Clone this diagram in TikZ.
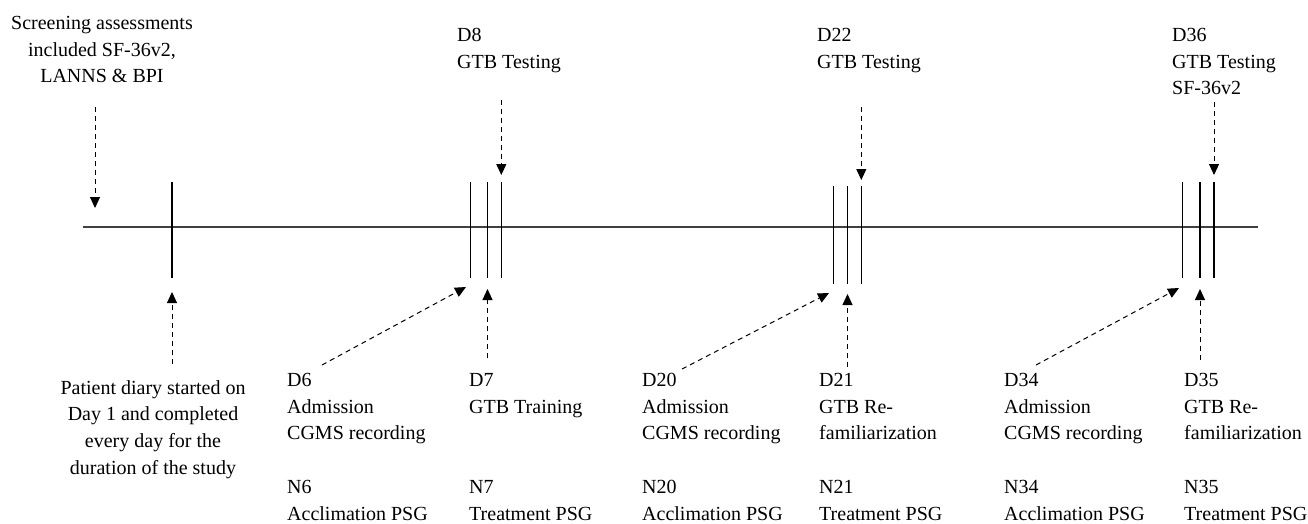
\documentclass[tikz,border=0pt]{standalone}
\usepackage{fontspec}
\setmainfont{Liberation Serif}
\usetikzlibrary{arrows.meta}

\tikzset{
    txt/.style={inner sep=0pt, font=\fontsize{20pt}{26.7pt}\selectfont, align=left, anchor=north west},
    note/.style={txt, align=center, anchor=north},
    axis/.style={line width=1.5pt, black!75},
    daytick/.style={line width=1.3pt},
    dasharrow/.style={-{Triangle[length=11pt,width=10pt]}, line width=1pt, dash pattern=on 5pt off 4pt}
}

\begin{document}
\begin{tikzpicture}[x=1pt, y=-1pt]
    \useasboundingbox (0,0) rectangle (1308,523);

    % Draw time line
    \draw[axis] (83,227) -- (1258,227);

    % Draw day ticks
    \draw[daytick] (172,182) -- (172,278); % Day 1
    \draw[daytick] (470.7,182) -- (470.7,278);
    \draw[daytick] (487.3,182) -- (487.3,278);
    \draw[daytick] (501.3,182) -- (501.3,278);
    \draw[daytick] (833.3,186) -- (833.3,284);
    \draw[daytick] (847.5,186) -- (847.5,284);
    \draw[daytick] (861.3,186) -- (861.3,284);
    \draw[daytick] (1182.7,182) -- (1182.7,278);
    \draw[daytick] (1200,182) -- (1200,278);
    \draw[daytick] (1214,182) -- (1214,278);

    % Draw labels above the line
    \node[note] (screen) at (102,16) {Screening assessments\\included SF-36v2,\\LANNS \& BPI};
    \node[txt] (d8) at (457,28) {D8\\GTB Testing};
    \node[txt] (d22) at (817,28) {D22\\GTB Testing};
    \node[txt] (d36) at (1172,28) {D36\\GTB Testing\\SF-36v2};

    % Draw labels below the line
    \node[note] (diary) at (153,380) {Patient diary started on\\Day 1 and completed\\every day for the\\duration of the study};
    \node[txt] (d6) at (287,373) {D6\\Admission\\CGMS recording};
    \node[txt] (d7) at (469,373) {D7\\GTB Training};
    \node[txt] (d20) at (642,373) {D20\\Admission\\CGMS recording};
    \node[txt] (d21) at (819,373) {D21\\GTB Re-\\familiarization};
    \node[txt] (d34) at (1004,373) {D34\\Admission\\CGMS recording};
    \node[txt] (d35) at (1184,373) {D35\\GTB Re-\\familiarization};
    \node[txt] (n6) at (287,480) {N6\\Acclimation PSG};
    \node[txt] (n7) at (469,480) {N7\\Treatment PSG};
    \node[txt] (n20) at (642,480) {N20\\Acclimation PSG};
    \node[txt] (n21) at (819,480) {N21\\Treatment PSG};
    \node[txt] (n34) at (1004,480) {N34\\Acclimation PSG};
    \node[txt] (n35) at (1184,480) {N35\\Treatment PSG};

    % Arrow ends
    \coordinate (screenS) at (95,107);   \coordinate (screenE) at (95,208);
    \coordinate (d8S) at (501.3,100);    \coordinate (d8E) at (501.3,175);
    \coordinate (d22S) at (861.3,107);   \coordinate (d22E) at (861.3,180);
    \coordinate (d36S) at (1214,102);    \coordinate (d36E) at (1214,175);
    \coordinate (diaryS) at (172,364);   \coordinate (diaryE) at (172,292);
    \coordinate (d6S) at (322,365);      \coordinate (d6E) at (466,287);
    \coordinate (d7S) at (487.5,358);    \coordinate (d7E) at (487.5,289);
    \coordinate (d20S) at (682,369);     \coordinate (d20E) at (829,293);
    \coordinate (d21S) at (847.5,367);   \coordinate (d21E) at (847.5,294);
    \coordinate (d34S) at (1036,365);    \coordinate (d34E) at (1179,288);
    \coordinate (d35S) at (1200,360);    \coordinate (d35E) at (1200,289);

    % Draw dashed arrows
    \draw[dasharrow] (screenS) -- (screenE);
    \draw[dasharrow] (d8S) -- (d8E);
    \draw[dasharrow] (d22S) -- (d22E);
    \draw[dasharrow] (d36S) -- (d36E);
    \draw[dasharrow] (diaryS) -- (diaryE);
    \draw[dasharrow] (d6S) -- (d6E);
    \draw[dasharrow] (d7S) -- (d7E);
    \draw[dasharrow] (d20S) -- (d20E);
    \draw[dasharrow] (d21S) -- (d21E);
    \draw[dasharrow] (d34S) -- (d34E);
    \draw[dasharrow] (d35S) -- (d35E);
\end{tikzpicture}
\end{document}
